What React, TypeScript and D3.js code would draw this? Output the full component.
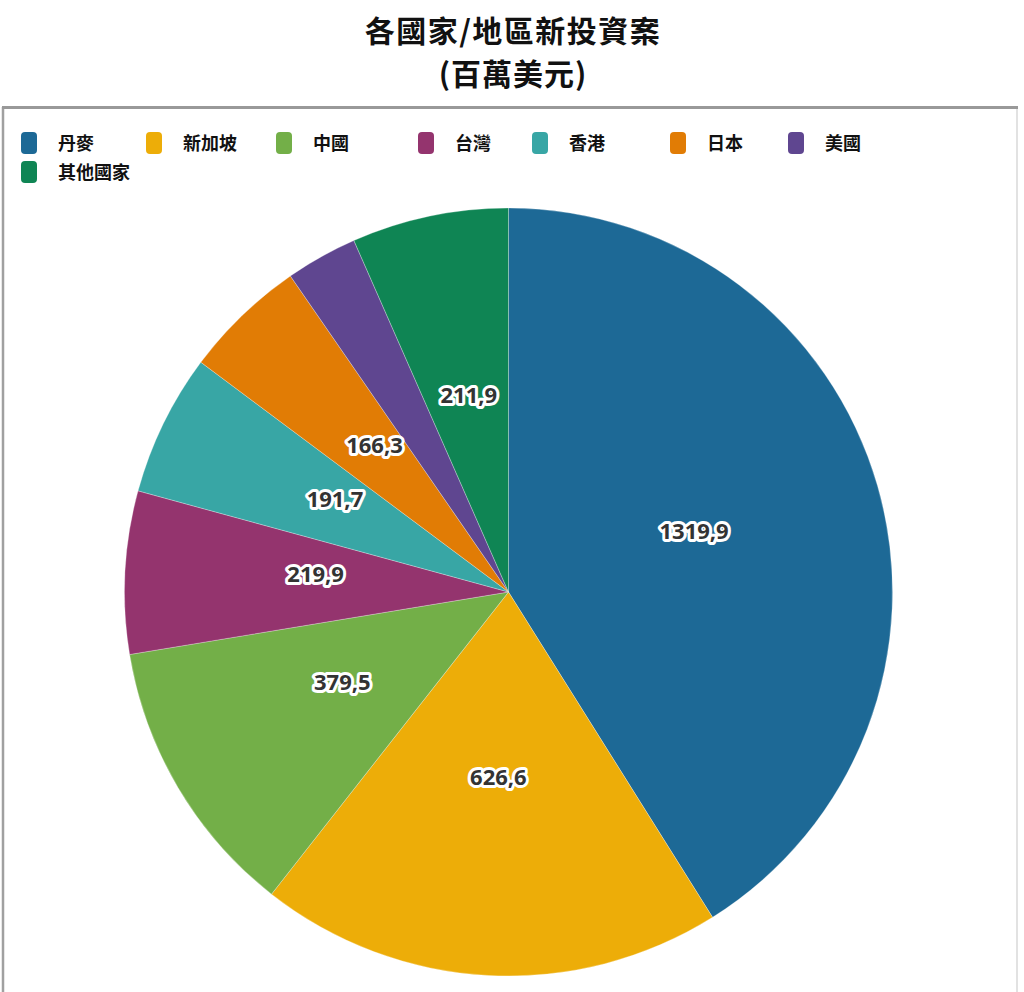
import React from "react";
import * as d3 from "d3";

const categories = ["丹麥", "新加坡", "中國", "台灣", "香港", "日本", "美國", "其他國家"];
const values = [1319.9, 626.6, 379.5, 219.9, 191.7, 166.3, 97.0, 211.9];
const valueLabels = ["1319,9", "626,6", "379,5", "219,9", "191,7", "166,3", "", "211,9"];
const colors = ["#1D6996", "#EDAD08", "#73AF48", "#94346E", "#38A6A5", "#E17C05", "#5F4690", "#0F8554"];
const titleLines = ["各國家/地區新投資案", "(百萬美元)"];

// layout constants
const W = 1024;
const H = 992;
const CX = 508.5;
const CY = 592;
const R = 384;
const legendX = [21, 146, 276, 418, 532, 670, 788, 21];
const legendRow = [0, 0, 0, 0, 0, 0, 0, 1];

export default function App() {
  const pie = d3.pie<number>().sort(null).value((d) => d);
  const arcs = pie(values);
  const arc = d3.arc<d3.PieArcDatum<number>>().innerRadius(0).outerRadius(R);
  const labelArc = d3.arc<d3.PieArcDatum<number>>().innerRadius(R * 0.503).outerRadius(R * 0.503);
  const cjk = "'Noto Sans CJK TC', 'Noto Sans CJK SC', sans-serif";

  return (
    <svg
      width={W}
      height={H}
      style={{ position: "absolute", left: 0, top: 0, background: "#fff" }}
    >
      <text x={513} y={42} textAnchor="middle" fontFamily={cjk} fontWeight={700} fontSize={30} letterSpacing={1.5} fill="#111">
        {titleLines[0]}
      </text>
      <text x={513} y={85} textAnchor="middle" fontFamily={cjk} fontWeight={700} fontSize={30} letterSpacing={1} fill="#111">
        {titleLines[1]}
      </text>

      {/* frame */}
      <line x1={3} x2={3} y1={107} y2={H} stroke="#a0a0a0" strokeWidth={2.5} />
      <line x1={1017} x2={1017} y1={107} y2={H} stroke="#e2e2e2" strokeWidth={2} />
      <line x1={2} x2={1018} y1={107.5} y2={107.5} stroke="#999" strokeWidth={3} />

      {/* legend */}
      {categories.map((c, i) => (
        <g key={c} transform={`translate(${legendX[i]},${132 + legendRow[i] * 29})`}>
          <rect x={0} y={0} width={16} height={22} rx={4} ry={4} fill={colors[i]} />
          <text x={37} y={18} fontFamily={cjk} fontWeight={700} fontSize={18} fill="#111">
            {c}
          </text>
        </g>
      ))}

      {/* pie */}
      <g transform={`translate(${CX},${CY})`}>
        {arcs.map((a, i) => (
          <path key={i} d={arc(a) || ""} fill={colors[i]} stroke="#ffffff" strokeOpacity={0.35} strokeWidth={0.8} />
        ))}
        {arcs.map((a, i) => {
          if (!valueLabels[i]) return null;
          const [lx, ly] = labelArc.centroid(a);
          return (
            <text
              key={"l" + i}
              x={lx}
              y={ly}
              textAnchor="middle"
              fontFamily="'Open Sans', sans-serif"
              fontWeight={700}
              fontSize={22}
              fill="#333"
              stroke="#fff"
              strokeWidth={6}
              strokeLinejoin="round"
              style={{ paintOrder: "stroke" }}
            >
              {valueLabels[i]}
            </text>
          );
        })}
      </g>
    </svg>
  );
}
